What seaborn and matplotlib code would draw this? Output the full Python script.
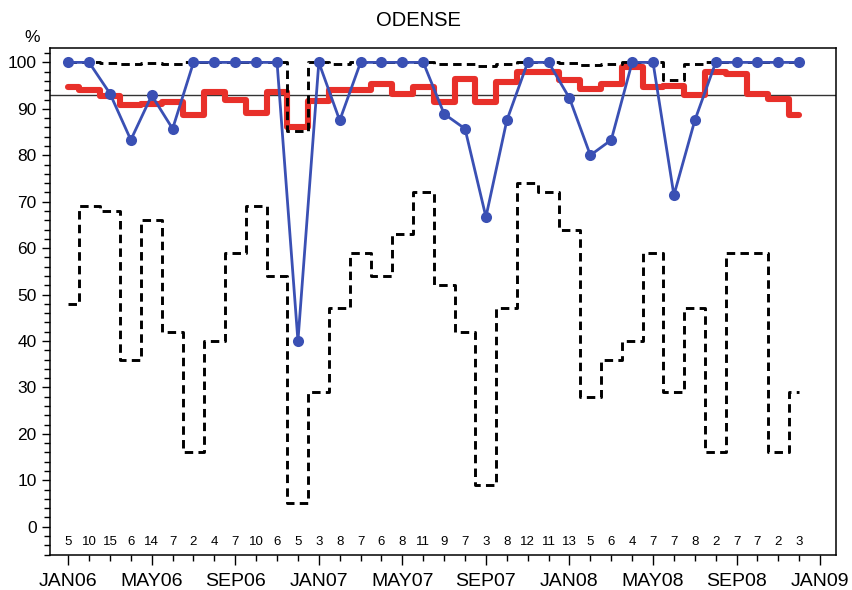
import numpy as np
import pandas as pd
import seaborn as sns
import matplotlib.pyplot as plt
from matplotlib.ticker import FixedLocator, MultipleLocator

# monthly values, JAN06 .. DEC08
month_labels = pd.date_range("2006-01-01", periods=36, freq="MS").strftime("%b%y").str.upper()
pct = [100, 100, 93.3, 83.3, 92.9, 85.7, 100, 100, 100, 100, 100, 40.0,
       100, 87.5, 100, 100, 100, 100, 88.9, 85.7, 66.7, 87.5, 100, 100,
       92.3, 80.0, 83.3, 100, 100, 71.4, 87.5, 100, 100, 100, 100, 100]
upper = [100, 100, 99.8, 99.6, 99.8, 99.6, 100, 100, 100, 100, 100, 85.3,
         100, 99.7, 100, 100, 100, 100, 99.7, 99.6, 99.2, 99.7, 100, 100,
         99.8, 99.5, 99.6, 100, 100, 96.3, 99.7, 100, 100, 100, 100, 100]
lower = [48, 69, 68, 36, 66, 42, 16, 40, 59, 69, 54, 5,
         29, 47, 59, 54, 63, 72, 52, 42, 9, 47, 74, 72,
         64, 28, 36, 40, 59, 29, 47, 16, 59, 59, 16, 29]
avg = [94.7, 94.0, 92.7, 90.9, 91.1, 91.5, 88.6, 93.6, 92.0, 89.0, 93.6, 86.1,
       91.7, 94.0, 94.0, 95.4, 93.3, 94.7, 91.5, 96.5, 91.5, 95.8, 98.0, 98.0,
       96.3, 94.3, 95.4, 99.0, 94.7, 95.0, 92.9, 98.0, 97.6, 93.2, 92.2, 88.6]
counts = [5, 10, 15, 6, 14, 7, 2, 4, 7, 10, 6, 5,
          3, 8, 7, 6, 8, 11, 9, 7, 3, 8, 12, 11,
          13, 5, 6, 4, 7, 7, 8, 2, 7, 7, 2, 3]
target = 93
tick_labels = ["JAN06", "MAY06", "SEP06", "JAN07", "MAY07", "SEP07",
               "JAN08", "MAY08", "SEP08", "JAN09"]

df = pd.DataFrame({"idx": np.arange(len(pct)), "month": month_labels,
                   "pct": pct, "upper": upper, "lower": lower, "avg": avg})

sns.set_style("ticks")
plt.rcParams["font.family"] = ["Liberation Sans", "DejaVu Sans"]
plt.rcParams.update({"text.color": "black", "xtick.color": "black",
                     "ytick.color": "black", "axes.labelcolor": "black"})

fig = plt.figure(figsize=(8.52, 5.9), dpi=100)
ax = fig.add_axes([50 / 852, 1 - 555 / 590, 786 / 852, 507 / 590])

ax.axhline(target, color="#333333", linewidth=1.0, zorder=1)
sns.lineplot(data=df, x="idx", y="avg", drawstyle="steps-mid", color="#e8302a",
             linewidth=4.4, ax=ax, zorder=2)
dash = (0, (2.9, 1.8))
sns.lineplot(data=df, x="idx", y="upper", drawstyle="steps-mid", color="black",
             linewidth=2.1, linestyle=dash, ax=ax, zorder=3)
sns.lineplot(data=df, x="idx", y="lower", drawstyle="steps-mid", color="black",
             linewidth=2.1, linestyle=dash, ax=ax, zorder=3)
sns.lineplot(data=df, x="idx", y="pct", color="#3a50b4", linewidth=2.0,
             marker="o", markersize=8, markeredgewidth=0, ax=ax, zorder=4)

for i, n in enumerate(counts):
    ax.text(i, -3.3, str(n), ha="center", va="center", fontsize=9.5)

ax.set_xlim(-0.87, 36.76)
ax.set_ylim(-6.1, 103.1)
ax.xaxis.set_major_locator(FixedLocator(np.arange(0, 37, 4)))
ax.set_xticklabels(tick_labels, fontsize=14)
ax.xaxis.set_minor_locator(MultipleLocator(1))
ax.yaxis.set_major_locator(MultipleLocator(10))
ax.yaxis.set_minor_locator(MultipleLocator(2))
ax.tick_params(axis="y", labelsize=12.5, length=6, width=1)
ax.tick_params(axis="x", length=7, width=1, pad=6)
ax.tick_params(which="minor", length=4, width=1)
ax.set_xlabel("")
ax.set_ylabel("")
for s in ax.spines.values():
    s.set_visible(True)
    s.set_linewidth(1.1)
    s.set_color("black")

fig.text(32 / 852, 1 - 37 / 590, "%", ha="center", va="center", fontsize=12.5)
fig.text(418 / 852, 1 - 20 / 590, "ODENSE", ha="center", va="center", fontsize=14.5)

fig.savefig("out.png", dpi=100)
